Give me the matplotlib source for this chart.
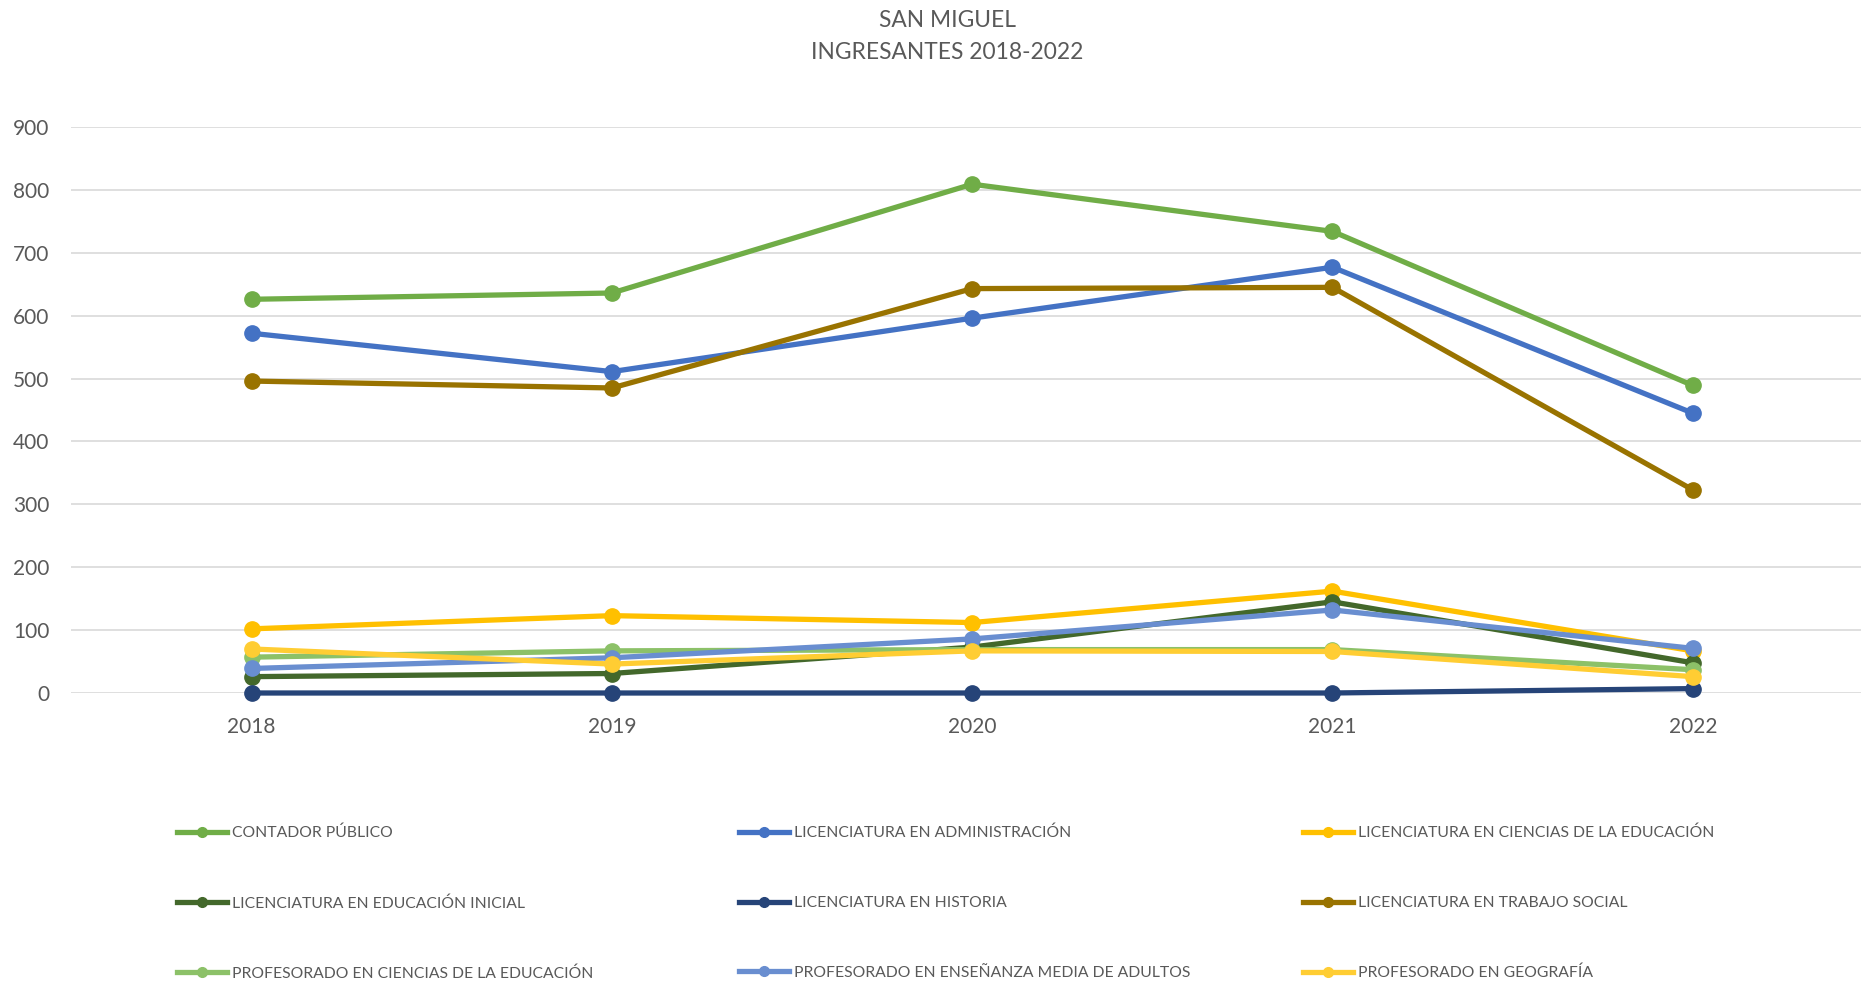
import matplotlib.pyplot as plt
from matplotlib.lines import Line2D

# data
years = ["2018", "2019", "2020", "2021", "2022"]

carreras = [
    "CONTADOR PÚBLICO",
    "LICENCIATURA EN ADMINISTRACIÓN",
    "LICENCIATURA EN CIENCIAS DE LA EDUCACIÓN",
    "LICENCIATURA EN EDUCACIÓN INICIAL",
    "LICENCIATURA EN HISTORIA",
    "LICENCIATURA EN TRABAJO SOCIAL",
    "PROFESORADO EN CIENCIAS DE LA EDUCACIÓN",
    "PROFESORADO EN ENSEÑANZA MEDIA DE ADULTOS",
    "PROFESORADO EN GEOGRAFÍA",
]

contador = [626, 636, 809, 734, 489]
lic_admin = [572, 511, 596, 677, 445]
lic_cs_educacion = [102, 123, 112, 162, 67]
lic_ed_inicial = [26, 31, 73, 145, 48]
lic_historia = [0, 0, 0, 0, 7]
lic_trabajo_social = [496, 485, 643, 645, 323]
prof_cs_educacion = [57, 67, 69, 69, 37]
prof_adultos = [39, 56, 86, 132, 71]
prof_geografia = [70, 46, 67, 66, 26]

valores = [contador, lic_admin, lic_cs_educacion, lic_ed_inicial, lic_historia,
           lic_trabajo_social, prof_cs_educacion, prof_adultos, prof_geografia]

colores = ["#70AD47", "#4472C4", "#FFC000", "#43682B", "#264478",
           "#997300", "#8CC168", "#698ED0", "#FFCD33"]

plt.rcParams['font.family'] = ['Lato', 'DejaVu Sans']
gris = "#595959"

fig = plt.figure(figsize=(18.61, 9.82), dpi=100)
ax = fig.add_axes([0.0384, 0.2943, 0.968, 0.5764])

x = list(range(len(years)))
for serie, color in zip(valores, colores):
    ax.plot(x, serie, color=color, linewidth=3.8, marker="o", markersize=11,
            solid_capstyle="round", clip_on=False)

ax.set_xlim(-0.5, 4.5)
ax.set_ylim(0, 900)
ax.set_yticks(range(0, 901, 100))
ax.set_xticks(x)
ax.set_xticklabels(years)
ax.grid(axis="y", color="#D9D9D9", linewidth=1.2)
ax.set_axisbelow(True)
for s in ax.spines.values():
    s.set_visible(False)
ax.tick_params(axis="both", length=0, labelsize=15, colors=gris)
ax.tick_params(axis="x", pad=17)
ax.tick_params(axis="y", pad=16)

fig.text(0.509, 0.9794, "SAN MIGUEL", ha="center", va="center", fontsize=16.4, color=gris)
fig.text(0.509, 0.9468, "INGRESANTES 2018-2022", ha="center", va="center", fontsize=16.4, color=gris)

# legend: three columns, row-major order like Excel
col_x = [0.095, 0.397, 0.700]
for j in range(3):
    handles = []
    labels = []
    for i in range(j, len(carreras), 3):
        handles.append(Line2D([], [], color=colores[i], linewidth=3.8, marker="o", markersize=7))
        labels.append(carreras[i])
    fig.legend(handles, labels, loc="upper left", bbox_to_anchor=(col_x[j], 0.159),
               frameon=False, fontsize=11.3, labelcolor=gris, handlelength=3.2,
               handletextpad=0.3, labelspacing=3.55, borderaxespad=0, borderpad=0)

fig.savefig("out.png", dpi=100)
